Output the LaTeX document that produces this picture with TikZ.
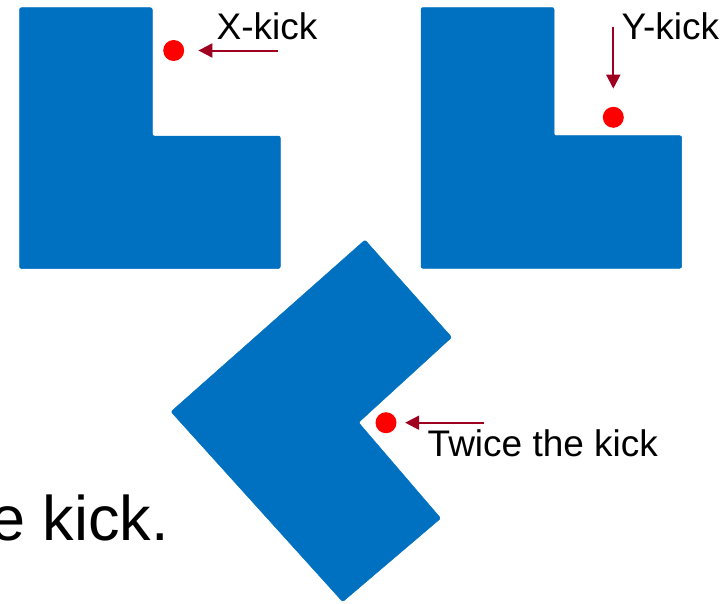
\documentclass[tikz,border=0pt]{standalone}
\usepackage{fontspec}
\setmainfont{Liberation Sans}
\usetikzlibrary{arrows.meta}
\definecolor{lblue}{RGB}{0,112,192}
\definecolor{kickred}{RGB}{160,0,32}
\definecolor{dotred}{RGB}{255,0,0}
\tikzset{
  lshape/.style={fill=lblue, draw=lblue, line width=0.5pt, rounded corners=2pt},
  ball/.style={circle, fill=dotred, inner sep=0pt, minimum size=21pt},
  kick/.style={draw=kickred, line width=2pt, -{Triangle[length=14pt,width=14pt]}},
  lbl/.style={inner sep=0pt, anchor=base west, font=\fontsize{37}{40}\selectfont},
}
\begin{document}
\begin{tikzpicture}[x=1pt,y=-1pt]
\useasboundingbox (0,0) rectangle (728,603);
% top-left L
\path[lshape] (19.5,7.7) -- (152.3,7.7) -- (152.3,136) -- (280.3,136) -- (280.3,268.5) -- (19.5,268.5) -- cycle;
% top-right L
\path[lshape] (421,7.5) -- (554,7.5) -- (554,135.7) -- (681.7,135.7) -- (681.7,268.3) -- (421,268.3) -- cycle;
% rotated L
\path[lshape] (365,240) -- (451.7,337.3) -- (358.5,422.5) -- (440.7,518.3) -- (342.7,601.7) -- (171,411.7) -- cycle;
% balls
\node[ball] (bx) at (173.7,50.5) {};
\node[ball] (by) at (613.3,117.3) {};
\node[ball] (bt) at (386,422.7) {};
% kick arrows
\coordinate (sx) at (278,50.5);
\coordinate (sy) at (613.3,26.7);
\coordinate (st) at (484,422.7);
\draw[kick, shorten >=14pt] (sx) -- (bx);
\draw[kick, shorten >=18pt] (sy) -- (by);
\draw[kick, shorten >=8.5pt] (st) -- (bt);
% labels
\node[lbl] (lx) at (216.5,39) {X-kick};
\node[lbl] (ly) at (621.5,39.3) {Y-kick};
\node[lbl] (lt) at (427.5,456) {Twice the kick};
\node[inner sep=0pt, anchor=base east, font=\fontsize{63}{70}\selectfont] (cut) at (169,540) {e kick.};
\end{tikzpicture}
\end{document}
